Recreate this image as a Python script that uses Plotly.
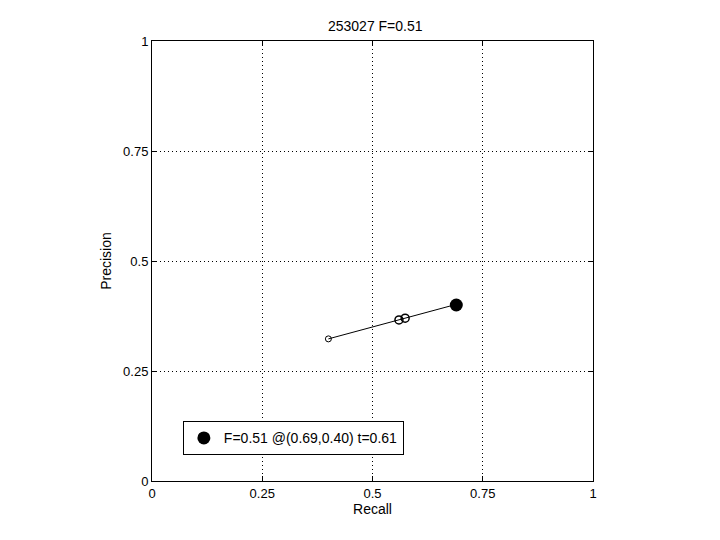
import plotly.graph_objects as go

recall = [0.40, 0.560, 0.574, 0.692]
precision = [0.323, 0.366, 0.370, 0.402]
best_r = [0.69]
best_p = [0.40]
title = "253027 F=0.51"
legend_label = "F=0.51 @(0.69,0.40) t=0.61"
ticks = [0, 0.25, 0.5, 0.75, 1]
tick_text = ["0", "0.25", "0.5", "0.75", "1"]

fnt = dict(family="Liberation Sans, Arial, sans-serif", size=13, color="black")
fnt_big = dict(family="Liberation Sans, Arial, sans-serif", size=14, color="black")

fig = go.Figure()
fig.add_trace(go.Scatter(x=recall, y=precision, mode="lines",
                         line=dict(color="black", width=1), showlegend=False))
fig.add_trace(go.Scatter(x=recall[:1], y=precision[:1], mode="markers",
                         marker=dict(symbol="circle-open", size=6, color="black", line=dict(width=1)),
                         showlegend=False))
fig.add_trace(go.Scatter(x=recall[1:3], y=precision[1:3], mode="markers",
                         marker=dict(symbol="circle-open", size=8, color="black", line=dict(width=1.5)),
                         showlegend=False))
fig.add_trace(go.Scatter(x=best_r, y=best_p, mode="markers", name=legend_label,
                         marker=dict(symbol="circle", size=13, color="black")))

axis_common = dict(range=[0, 1], tickvals=ticks, ticktext=tick_text, showgrid=True,
                   gridcolor="black", griddash="1px,3px", gridwidth=1, zeroline=False,
                   showline=True, linecolor="black", linewidth=1, mirror="ticks",
                   ticks="inside", ticklen=5, tickcolor="black", tickfont=fnt)

fig.update_layout(
    width=720, height=540,
    margin=dict(l=144, r=135, t=33, b=67),
    paper_bgcolor="white", plot_bgcolor="white",
    font=fnt,
    title=dict(text=title, x=(144 + 220.5) / 720, xanchor="center", xref="paper",
               y=1 - 18 / 540, yanchor="middle", font=fnt_big),
    xaxis=dict(**axis_common, title=dict(text="Recall", font=fnt_big, standoff=4)),
    yaxis=dict(**axis_common, title=dict(text="Precision", font=fnt_big, standoff=8)),
    legend=dict(x=0.070, y=0.097, xanchor="left", yanchor="middle", bordercolor="black",
                borderwidth=1, bgcolor="white", font=fnt_big, itemwidth=30,
                tracegroupgap=0),
    showlegend=True,
)
fig.write_html("out.html")
